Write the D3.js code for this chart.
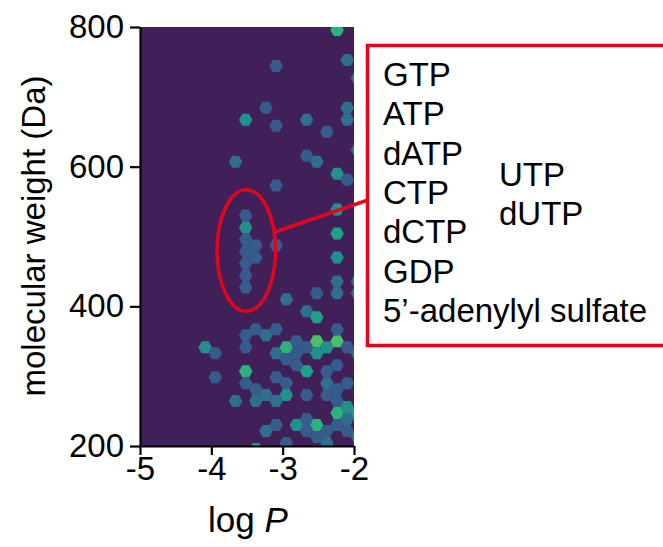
<!DOCTYPE html>
<html><head><meta charset="utf-8">
<script src="https://cdn.jsdelivr.net/npm/d3@7"></script>
<style>
body{margin:0;background:#fff}
text{font-family:"Liberation Sans",Arial,Helvetica,sans-serif}
</style>
</head><body>
<svg id="chart" width="663" height="547"></svg>
<script>
// ---- data (hexbin cells: centre logP, centre MW, count) ----
const hexLogP = [
 -2.237,-2.095,-1.953,-3.091,-3.234,-3.518,-3.091,-2.664,-2.380,-2.095,
 -2.095,-1.953,-3.660,-2.664,-2.522,-2.237,-2.095,-3.091,-2.237,-2.237,
 -2.237,-2.237,-2.237,-1.953,-1.953,-3.518,-3.518,-3.518,-3.518,-3.518,
 -3.518,-3.518,-3.376,-3.376,-3.091,-2.522,-2.949,-2.664,-2.522,-3.376,
 -3.234,-3.091,-3.518,-3.518,-4.087,-3.945,-3.945,-3.518,-3.518,-3.376,
 -3.234,-3.091,-3.091,-3.091,-3.376,-3.660,-3.091,-3.234,-3.376,-2.949,
 -2.807,-2.949,-2.664,-2.522,-2.522,-2.380,-2.237,-2.237,-2.095,-2.807,
 -2.664,-2.380,-2.237,-2.949,-2.949,-2.380,-2.095,-2.237,-2.664,-2.380,
 -2.237,-2.095,-2.237,-2.807,-2.664,-2.522,-2.237,-2.095,-2.664,-2.522,
 -2.380,-2.095,-2.380,-2.949,-1.953,-1.953,-1.953,-2.807
];
const hexMW = [
 795.7,752.9,727.1,744.3,684.3,667.1,658.6,667.1,650.0,684.3,
 667.1,624.3,607.1,615.7,607.1,590.0,581.4,572.9,538.6,504.3,
 470.0,435.7,418.6,435.7,418.6,530.0,512.9,495.7,478.6,461.4,
 444.3,427.1,487.1,470.0,487.1,418.6,410.0,392.9,384.3,367.1,
 358.6,367.1,358.6,341.4,341.4,332.9,298.6,307.1,290.0,281.4,
 272.9,298.6,332.9,264.3,264.3,264.3,230.0,221.4,195.7,341.4,
 350.0,324.3,341.4,350.0,332.9,341.4,350.0,367.1,341.4,315.7,
 307.1,307.1,315.7,290.0,272.9,290.0,290.0,281.4,272.9,272.9,
 264.3,255.7,247.1,230.0,238.6,230.0,230.0,238.6,221.4,212.9,
 221.4,221.4,204.3,204.3,332.9,247.1,212.9,332.9
];
const hexCount = [
 9,5,5,4,4,7,4,5,4,5,
 5,5,5,4,5,7,4,4,7,8,
 7,5,5,5,5,4,7,4,4,4,
 4,4,4,4,4,4,5,5,8,4,
 5,4,4,4,7,4,4,9,4,4,
 5,4,5,5,5,5,4,5,7,9,
 4,4,4,10,7,7,10,4,4,4,
 8,4,4,4,7,5,4,4,4,4,
 4,7,9,7,4,9,4,5,4,4,
 4,4,5,4,5,8,5,4
];
const maxCount = 14;
const binWidth = 0.1423;   // logP spacing between hex columns
const binHeight = 17.143;  // MW spacing between hexes in one column

const xTicks = [-5, -4, -3, -2];
const yTicks = [200, 400, 600, 800];
const namesLeft = ["GTP", "ATP", "dATP", "CTP", "dCTP", "GDP", "5\u2019-adenylyl sulfate"];
const namesRight = ["UTP", "dUTP"];
// highlighted region (ellipse) in data units
const hiCenter = [-3.51, 480], hiHalf = [0.41, 87];

// ---- layout ----
const svg = d3.select("#chart");
const L = 140, R = 354, T = 27, B = 446;
const x = d3.scaleLinear().domain([-5, -2]).range([L, R]);
const y = d3.scaleLinear().domain([200, 800]).range([B, T]);
const color = d3.scaleSequential(d3.interpolateViridis).domain([0, maxCount]);
const FS_TICK = 33, FS_LAB = 33, FS_BOX = 33;

svg.append("rect").attr("width", 663).attr("height", 547).attr("fill", "#fff");

svg.append("clipPath").attr("id", "plotclip")
  .append("rect").attr("x", L).attr("y", T).attr("width", R - L).attr("height", B - T);

const plot = svg.append("g").attr("clip-path", "url(#plotclip)");
plot.append("rect").attr("x", L).attr("y", T).attr("width", R - L).attr("height", B - T)
  .attr("fill", "#41205a");

const rx = (x(binWidth) - x(0)) * 2 / 3;
const ry = Math.abs(y(binHeight) - y(0)) / 2;
function hexPath(cx, cy) {
  return `M${cx - rx},${cy}L${cx - rx / 2},${cy - ry}L${cx + rx / 2},${cy - ry}` +
         `L${cx + rx},${cy}L${cx + rx / 2},${cy + ry}L${cx - rx / 2},${cy + ry}Z`;
}
const cells = hexLogP.map((v, i) => ({ lp: v, mw: hexMW[i], n: hexCount[i] }));
plot.selectAll("path.hex").data(cells).join("path")
  .attr("class", "hex")
  .attr("d", d => hexPath(x(d.lp), y(d.mw)))
  .attr("fill", d => color(d.n));

// ---- axes ----
const yAxis = svg.append("g").attr("transform", `translate(${L},0)`)
  .call(d3.axisLeft(y).tickValues(yTicks).tickSize(10).tickSizeOuter(0).tickPadding(6)
        .tickFormat(d => String(d)));
const xAxis = svg.append("g").attr("transform", `translate(0,${B})`)
  .call(d3.axisBottom(x).tickValues(xTicks).tickSize(9).tickSizeOuter(0).tickPadding(2)
        .tickFormat(d => String(d)));
[xAxis, yAxis].forEach(g => {
  g.select(".domain").attr("stroke", "#000").attr("stroke-width", 2.2);
  g.selectAll(".tick line").attr("stroke", "#000").attr("stroke-width", 2.2);
  g.selectAll(".tick text").attr("font-size", FS_TICK).attr("fill", "#000")
   .attr("font-family", '"Liberation Sans",Arial,sans-serif');
});

svg.append("text").attr("x", (L + R) / 2 + 1).attr("y", 532).attr("text-anchor", "middle")
  .attr("font-size", 35).call(t => {
    t.append("tspan").text("log ");
    t.append("tspan").attr("font-style", "italic").text("P");
  });
svg.append("text").attr("transform", `translate(45,236) rotate(-90)`)
  .attr("text-anchor", "middle").attr("font-size", FS_LAB).text("molecular weight (Da)");

// ---- annotation ----
const red = "#e3061b";
svg.append("ellipse")
  .attr("cx", x(hiCenter[0])).attr("cy", y(hiCenter[1]))
  .attr("rx", x(hiCenter[0] + hiHalf[0]) - x(hiCenter[0]))
  .attr("ry", y(hiCenter[1]) - y(hiCenter[1] + hiHalf[1]))
  .attr("fill", "none").attr("stroke", red).attr("stroke-width", 3.5);
svg.append("line").attr("x1", 275).attr("y1", 232).attr("x2", 368).attr("y2", 200)
  .attr("stroke", red).attr("stroke-width", 3.5);
svg.append("rect").attr("x", 367.5).attr("y", 45.5).attr("width", 320).attr("height", 300)
  .attr("fill", "#fff").attr("stroke", red).attr("stroke-width", 3.5);

svg.append("g").selectAll("text").data(namesLeft).join("text")
  .attr("x", 383).attr("y", (d, i) => 86 + i * 39.3)
  .attr("font-size", FS_BOX).text(d => d);
svg.append("g").selectAll("text").data(namesRight).join("text")
  .attr("x", 499).attr("y", (d, i) => 186 + i * 39.3)
  .attr("font-size", FS_BOX).text(d => d);
</script>
</body></html>
